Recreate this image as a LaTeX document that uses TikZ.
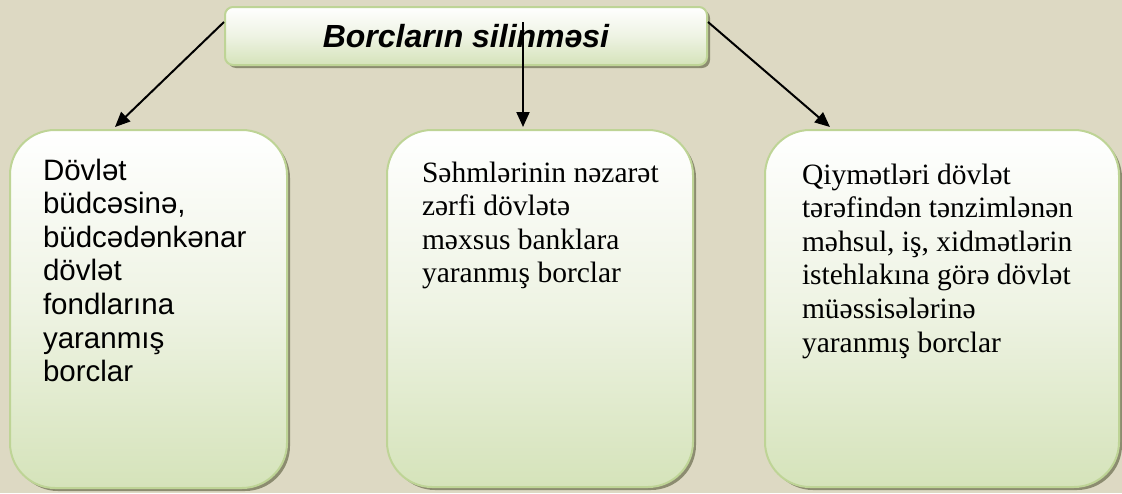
\documentclass[tikz,border=0pt]{standalone}
\usepackage{fontspec}
\setmainfont{Liberation Serif}
\newfontfamily\arialf{Liberation Sans}
\usetikzlibrary{shadows,arrows.meta}
\definecolor{bgc}{RGB}{221,217,195}
\definecolor{boxbot}{RGB}{213,227,186}
\definecolor{boxmid}{RGB}{238,243,227}
\definecolor{borderc}{RGB}{190,212,150}
\definecolor{shadowc}{RGB}{140,140,112}
\newcommand{\boxcontent}[5]{\hspace*{#2}\parbox[c][#1][t]{\dimexpr#3-#2\relax}{\raggedright\fontsize{29.5pt}{33.6pt}\selectfont\rule{0pt}{#4}#5}}
\tikzset{
  gbox/.style={draw=borderc, line width=2pt, top color=white, bottom color=boxbot, middle color=boxmid,
    inner sep=0pt, drop shadow={shadow xshift=3pt, shadow yshift=-3pt, fill=shadowc, opacity=1}},
  bigbox/.style={gbox, rounded corners=45pt},
  titlebox/.style={gbox, rounded corners=8pt, minimum width=482pt, minimum height=58pt,
    font=\arialf\bfseries\itshape\fontsize{32pt}{36pt}\selectfont},
  arr/.style={-{Triangle[length=15pt,width=13pt]}, line width=2pt, black}
}
\begin{document}
\begin{tikzpicture}[x=1pt,y=-1pt]
\fill[bgc] (0,0) rectangle (1122,493);
\useasboundingbox (0,0) rectangle (1122,493);
\node[bigbox, minimum width=277pt, minimum height=358pt] (b1) at (148.5,309)
  {\boxcontent{358pt}{33pt}{277pt}{50pt}{\arialf Dövlət\\büdcəsinə,\\büdcədənkənar\\dövlət\\fondlarına\\yaranmış\\borclar}};
\node[bigbox, minimum width=306pt, minimum height=357pt] (b2) at (540,308.5)
  {\boxcontent{357pt}{35pt}{306pt}{52pt}{Səhmlərinin nəzarət\\zərfi dövlətə\\məxsus banklara\\yaranmış borclar}};
\node[bigbox, minimum width=354pt, minimum height=357pt] (b3) at (942,308.5)
  {\boxcontent{357pt}{37pt}{354pt}{54pt}{Qiymətləri dövlət\\tərəfindən tənzimlənən\\məhsul, iş, xidmətlərin\\istehlakına görə dövlət\\müəssisələrinə\\yaranmış borclar}};
\node[titlebox] (top) at (466,36) {Borcların silinməsi};
\draw[arr] ([yshift=14pt]top.west) -- ([xshift=-33.5pt,yshift=2pt]b1.north);
\draw[arr] ([xshift=57pt,yshift=14pt]top.center) -- ([xshift=-17pt,yshift=2pt]b2.north);
\draw[arr] ([yshift=14pt]top.east) -- ([xshift=-112pt,yshift=2pt]b3.north);
\end{tikzpicture}
\end{document}
